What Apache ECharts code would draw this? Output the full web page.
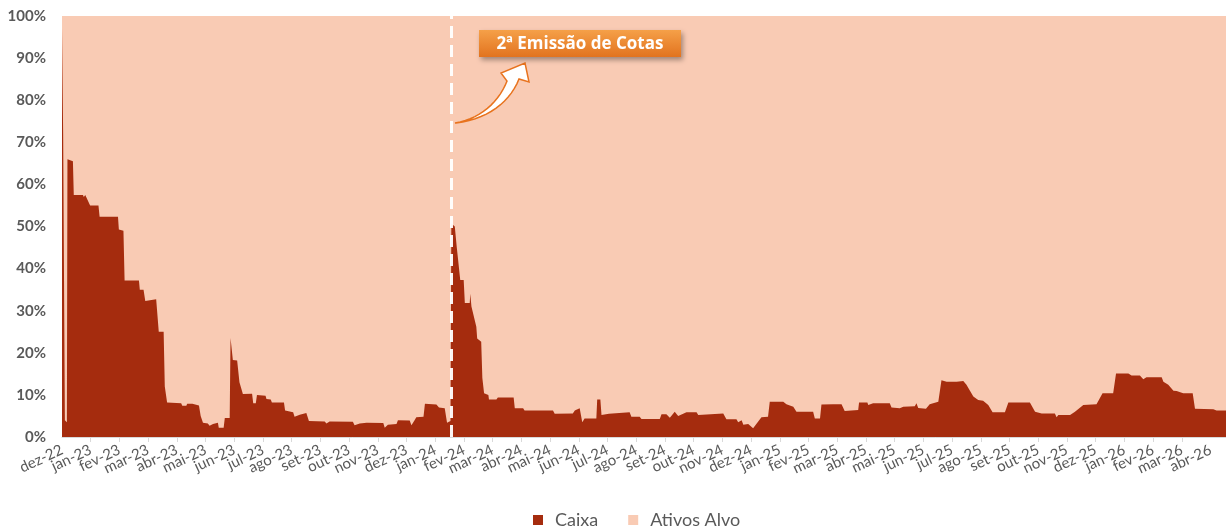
<!DOCTYPE html>
<html>
<head>
<meta charset="utf-8">
<script src="https://cdn.jsdelivr.net/npm/echarts@6/dist/echarts.min.js"></script>
<style>html,body{margin:0;padding:0;background:#fff}#c{width:1226px;height:530px}</style>
</head>
<body>
<div id="c"></div>
<script>
// month tick labels (one per month, starting dez-22)
const monthLabels = ['dez-22','jan-23','fev-23','mar-23','abr-23','mai-23','jun-23','jul-23','ago-23','set-23','out-23','nov-23','dez-23','jan-24','fev-24','mar-24','abr-24','mai-24','jun-24','jul-24','ago-24','set-24','out-24','nov-24','dez-24','jan-25','fev-25','mar-25','abr-25','mai-25','jun-25','jul-25','ago-25','set-25','out-25','nov-25','dez-25','jan-26','fev-26','mar-26','abr-26'];
// position of each reading, in months since the start of dez-22
const caixaMonth = [0,0.04,0.10,0.17,0.19,0.38,0.41,0.73,0.76,0.81,0.87,0.98,1.27,1.31,1.95,1.98,2.14,2.18,2.68,2.71,2.84,2.90,3.28,3.33,3.37,3.54,3.58,3.66,4.15,4.19,4.33,4.36,4.54,4.57,4.77,4.83,4.91,5.08,5.14,5.26,5.43,5.46,5.63,5.67,5.84,5.87,5.95,6.10,6.18,6.30,6.62,6.66,6.75,6.79,7.09,7.12,7.27,7.31,7.73,7.77,8.05,8.10,8.28,8.33,8.51,8.60,9.15,9.21,9.32,10.13,10.19,10.37,10.61,11.19,11.24,11.35,11.65,11.70,12.11,12.17,12.28,12.34,12.59,12.64,13.04,13.13,13.33,13.41,13.53,
13.56,13.68,13.75,13.87,13.99,14.03,14.20,14.22,14.26,14.43,14.46,14.60,14.64,14.70,14.85,14.87,15.13,15.18,15.73,15.77,16.06,16.11,17.10,17.16,17.79,17.86,18.03,18.12,18.20,18.61,18.64,18.75,18.79,19.05,19.08,19.77,19.83,20.12,20.18,20.82,20.88,21.05,21.17,21.34,21.46,21.75,22.10,22.16,22.21,23.03,23.14,23.49,23.55,23.67,23.73,23.90,24.07,24.36,24.42,24.59,24.65,25.12,25.23,25.47,25.58,26.16,26.22,26.40,
26.45,26.86,26.88,26.92,27.15,27.26,27.73,27.76,28.05,28.08,28.25,28.83,28.89,29.18,29.30,29.70,29.76,29.82,30.09,30.22,30.52,30.63,30.81,31.16,31.39,31.50,31.74,31.91,32.08,32.26,32.41,32.84,32.96,33.71,33.89,34.12,34.58,34.64,34.70,35.11,35.28,35.57,36.03,36.24,36.61,36.71,37.14,37.25,37.54,37.66,37.77,38.30,38.36,38.53,38.59,38.71,38.82,39.05,39.38,39.46,40.10,40.21,40.54];
// Caixa share of the portfolio (%)
const caixaPct = [97,72,4,3.5,66,65.5,57.5,57.5,57,57.5,57.5,55,55,52.3,52.3,49.3,49,37.2,37.2,35,35,32.3,32.7,32.7,25,25,12,8.2,8,7.4,7.4,7.9,7.9,7.6,7.5,5,3.4,3.2,2.7,3.1,3.4,2.2,2.2,4.5,4.5,23.5,18.3,18.2,13,10.2,10.3,8,8,10,9.8,9,8.9,8.2,8.2,6.3,5.9,4.8,5.3,5.7,5.7,3.8,3.7,3.2,3.7,3.6,2.8,3.2,3.4,3.3,2.2,2.9,3.1,4,3.9,2.8,4,4.7,4.8,7.9,7.7,7,6.8,3.4,3.8,
50.7,50,45,37.3,37.3,31.8,31.8,34,31,26.2,23.4,22.6,14,10.4,10,8.9,8.9,9.4,9.4,6.8,6.8,6.3,6.3,5.5,5.6,6.3,6.8,3.5,4.4,4.4,8.9,8.9,5.2,5.5,5.9,5.9,4.8,4.8,4.3,4.3,5.4,5.4,4.6,6,5,5.9,5.9,5.2,5.6,5.6,4.2,4.2,3.5,4,2.9,3.1,2.1,4.7,4.8,4.8,8.4,8.4,7.8,7.2,6,6,4.4,4.4,
7.7,7.8,8.2,7.8,7.8,6.2,6.4,8.2,8.2,7.6,8,8,7,6.8,7.2,7.3,8,6.9,6.7,7.8,8.4,13.5,13.1,13.1,13.3,12.4,9.6,8.8,8.6,7.6,5.9,5.9,8.2,8.2,6,5.6,5.6,4.7,5.2,5.2,6,7.6,7.8,10.4,10.4,15.1,15.1,14.6,14.6,13.7,14.2,14.2,13.1,12.4,12.6,11,10.9,10.4,10.4,6.7,6.6,6.3,6.3];
// Ativos Alvo share = remainder of the portfolio
const alvoPct = caixaPct.map(v => 100 - v);
const emissionMonth = 13.57; // 2ª Emissão de Cotas
const seriesNames = ['Caixa','Ativos Alvo'];

const caixaData = caixaMonth.map((m,i)=>[m, caixaPct[i]]);
// top of the stacked Ativos Alvo band = Caixa + Ativos Alvo
const alvoTopData = caixaMonth.map((m,i)=>[m, caixaPct[i] + alvoPct[i]]);
const monthTicks = monthLabels.map((_, i) => i);
// first and last label repeated so the min/max overlap rule drops the duplicate, not a real month
const labelTicks = [0].concat(monthTicks, [monthTicks.length - 1]);

// curved callout arrow outline (cubic bezier sampled into a polygon)
function bez(p0,p1,p2,p3,n){const out=[];for(let k=0;k<=n;k++){const t=k/n,u=1-t;
  out.push([u*u*u*p0[0]+3*u*u*t*p1[0]+3*u*t*t*p2[0]+t*t*t*p3[0], u*u*u*p0[1]+3*u*u*t*p1[1]+3*u*t*t*p2[1]+t*t*t*p3[1]]);}return out;}
const arrowPts = [].concat(
  bez([455,123],[480,119],[499,102],[507,81],14),
  [[501,73],[525,63],[529,82]],
  bez([519,79],[510,102],[488,119],[456,123],14)
);

const chart = echarts.init(document.getElementById('c'));
const font = 'Lato, "Liberation Sans", sans-serif';
chart.setOption({
  animation:false,
  textStyle:{fontFamily:font},
  grid:{left:62,right:0,top:16,bottom:93,containLabel:false},
  legend:{top:506,left:528,icon:'rect',itemWidth:10,itemHeight:10,itemGap:30,
    textStyle:{fontSize:18,color:'#595959',fontFamily:font,padding:[0,0,0,7]},data:seriesNames},
  xAxis:{type:'value',min:0,max:40.54,interval:1,
    axisLine:{show:true,lineStyle:{color:'#D9D9D9'}},
    axisTick:{show:true,length:5,lineStyle:{color:'#D9D9D9'},customValues:monthTicks},
    splitLine:{show:false},
    axisLabel:{rotate:25,fontSize:15,lineHeight:10,color:'#595959',margin:12,customValues:labelTicks,
      showMinLabel:true,showMaxLabel:true,hideOverlap:false,
      formatter:v=>monthLabels[Math.round(v)]||''}},
  yAxis:{type:'value',min:0,max:100,interval:10,
    axisLine:{show:false},axisTick:{show:false},splitLine:{show:false},
    axisLabel:{formatter:'{value}%',fontSize:15,fontWeight:'bold',color:'#595959',margin:16}},
  series:[
    {name:seriesNames[1],type:'line',data:alvoTopData,symbol:'none',z:1,
      lineStyle:{width:0},itemStyle:{color:'#F9CBB4'},areaStyle:{color:'#F9CBB4',opacity:1}},
    {name:seriesNames[0],type:'line',data:caixaData,symbol:'none',z:2,
      lineStyle:{width:0},itemStyle:{color:'#A52C0E'},areaStyle:{color:'#A52C0E',opacity:1},
      markLine:{silent:true,symbol:['none','none'],label:{show:false},
        lineStyle:{color:'#ffffff',type:[12,7],width:3,opacity:0.95},
        data:[{xAxis:emissionMonth}]}}
  ]
});
try {
chart.setOption({graphic:[
    {type:'polygon',z:100,shape:{points:arrowPts},
      style:{fill:'#ffffff',stroke:'#E8731E',lineWidth:1.5}},
    {type:'rect',z:100,shape:{x:479,y:30,width:202,height:27},
      style:{fill:{type:'linear',x:0,y:0,x2:0,y2:1,colorStops:[{offset:0,color:'#F5A048'},{offset:1,color:'#E2731F'}]},
        shadowBlur:5,shadowOffsetX:2,shadowOffsetY:3,shadowColor:'rgba(0,0,0,0.35)'}},
    {type:'text',z:101,x:580,y:44,style:{text:'2ª Emissão de Cotas',fill:'#ffffff',font:'bold 17px "Open Sans", sans-serif',align:'center',verticalAlign:'middle'}}
  ]});
} catch(e) {}
</script>
</body>
</html>
